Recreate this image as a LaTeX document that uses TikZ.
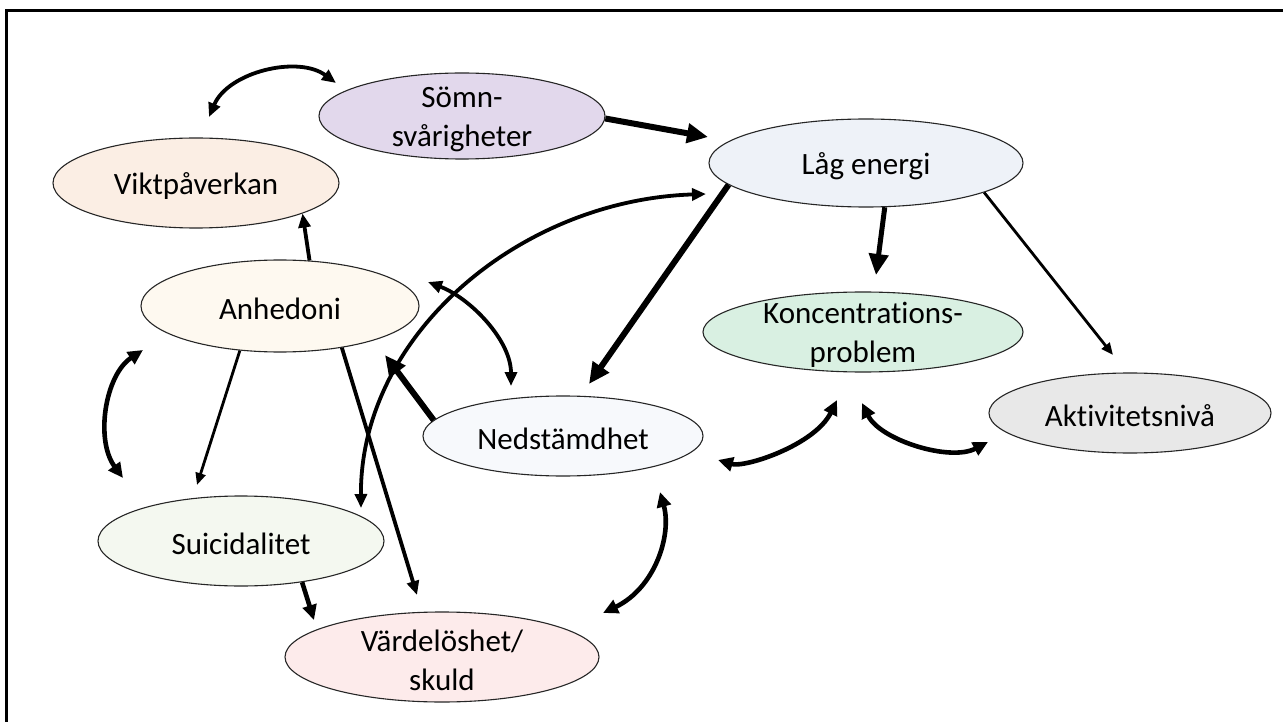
\documentclass[tikz,border=0pt]{standalone}
\usepackage{fontspec}
\setmainfont{Carlito}[RawFeature={-liga;-clig;-dlig;-rlig;-calt}]
\usetikzlibrary{shapes.geometric,arrows.meta}

\definecolor{cSomn}{RGB}{226,216,236}
\definecolor{cLag}{RGB}{238,242,248}
\definecolor{cVikt}{RGB}{251,238,228}
\definecolor{cAnh}{RGB}{254,249,240}
\definecolor{cKonc}{RGB}{217,240,226}
\definecolor{cAkt}{RGB}{232,232,232}
\definecolor{cNed}{RGB}{247,249,252}
\definecolor{cSuic}{RGB}{244,248,240}
\definecolor{cVard}{RGB}{253,235,235}

\tikzset{
  headS/.tip={Triangle[length=12pt,width=10pt]},
  headM/.tip={Triangle[length=14pt,width=12pt]},
  headL/.tip={Triangle[length=15pt,width=14pt]},
  headXL/.tip={Triangle[length=21pt,width=19pt]},
}

\begin{document}
\begin{tikzpicture}[x=1pt,y=-1pt,
  bubble/.style={ellipse, draw=black!85, line width=1.1pt, inner sep=0pt},
  txt/.style={align=center, font=\fontsize{31}{39}\selectfont, inner sep=0pt, yshift=-3pt},
  thinarrow/.style={line width=2.8pt, -headS},
  midarrow/.style={line width=3.8pt, -headM},
  boldarrow/.style={line width=4.6pt, -headL},
  heavyarrow/.style={line width=6pt, -headXL},
  midtwo/.style={line width=3.8pt, headM-headM},
  boldtwo/.style={line width=4.6pt, headL-headL},
]
\useasboundingbox (0,0) rectangle (1283,722);
\fill[white] (0,0) rectangle (1283,722);

% frame
\draw[line width=3pt, line join=miter] (6.7,722) -- (6.7,10.7) -- (1283,10.7);

% symptom bubbles
\node[bubble, fill=cSomn, minimum width=286, minimum height=86,
  label={[txt]center:{Sömn-\\svårigheter}}] (somn) at (462,116) {};
\node[bubble, fill=cLag, minimum width=314, minimum height=88,
  label={[txt]center:{Låg energi}}] (lag) at (866,163) {};
\node[bubble, fill=cVikt, minimum width=286, minimum height=90,
  label={[txt]center:{Viktpåverkan}}] (vikt) at (196,183) {};
\node[bubble, fill=cAnh, minimum width=278, minimum height=92,
  label={[txt]center:{Anhedoni}}] (anh) at (280,306) {};
\node[bubble, fill=cKonc, minimum width=320, minimum height=80,
  label={[txt]center:{Koncentrations-\\problem}}] (konc) at (863,332) {};
\node[bubble, fill=cAkt, minimum width=282, minimum height=80,
  label={[txt]center:{Aktivitetsnivå}}] (akt) at (1130,413) {};
\node[bubble, fill=cNed, minimum width=280, minimum height=80,
  label={[txt]center:{Nedstämdhet}}] (ned) at (563,436) {};
\node[bubble, fill=cSuic, minimum width=286, minimum height=90,
  label={[txt]center:{Suicidalitet}}] (suic) at (241,541) {};
\node[bubble, fill=cVard, minimum width=314, minimum height=90,
  label={[txt]center:{Värdelöshet/\\skuld}}] (vard) at (442,657) {};

% free arrow ends
\coordinate (viktEnd) at (209,117);
\coordinate (somnEnd) at (336,83);
\coordinate (lagIn) at (708,137);
\coordinate (lagLeft) at (706,194);
\coordinate (suicTop) at (361,508);
\coordinate (nedTop) at (589,384);
\coordinate (koncTop) at (876,275);
\coordinate (aktTop) at (1113,355);
\coordinate (anhRight) at (385,355);
\coordinate (anhSide) at (428,282);
\coordinate (nedSide) at (511,386);
\coordinate (anhLow) at (143,350);
\coordinate (suicLeft) at (123,478);
\coordinate (suicDown) at (197,485);
\coordinate (vardTop) at (417,595);
\coordinate (vardLeft) at (314,620);
\coordinate (nedBelow) at (660,492);
\coordinate (vardRight) at (603,613);
\coordinate (nedRight) at (718,460);
\coordinate (koncLowL) at (837,400);
\coordinate (koncLowR) at (862,403);
\coordinate (aktLeft) at (988,442);

% one-way influences
\draw[heavyarrow] (somn.359) -- (lagIn);
\draw[heavyarrow] (lag.189) -- (nedTop);
\draw[line width=5pt, -headXL] (lag.293) -- (koncTop);
\draw[thinarrow] (lag.346) -- (aktTop);
\draw[midarrow] (anh.57) -- (vikt.344);
\draw[heavyarrow] (ned.173) -- (anhRight);
\draw[thinarrow] (anh.228) -- (suicDown);
\draw[midarrow] (anh.326) -- (vardTop);
\draw[boldarrow] (suic.326) -- (vardLeft);

% two-way influences
\draw[midtwo] (viktEnd) .. controls (228,72) and (298,55) .. (somnEnd);
\draw[midtwo] (lagLeft) .. controls (520,200) and (360,335) .. (suicTop);
\draw[midtwo] (anhSide) .. controls (470,298) and (511,340) .. (nedSide);
\draw[boldtwo] (anhLow) .. controls (105,375) and (95,440) .. (suicLeft);
\draw[boldtwo] (nedBelow) .. controls (672,535) and (655,588) .. (vardRight);
\draw[boldtwo] (nedRight) .. controls (745,468) and (815,445) .. (koncLowL);
\draw[boldtwo] (koncLowR) .. controls (880,440) and (950,462) .. (aktLeft);
\end{tikzpicture}
\end{document}
